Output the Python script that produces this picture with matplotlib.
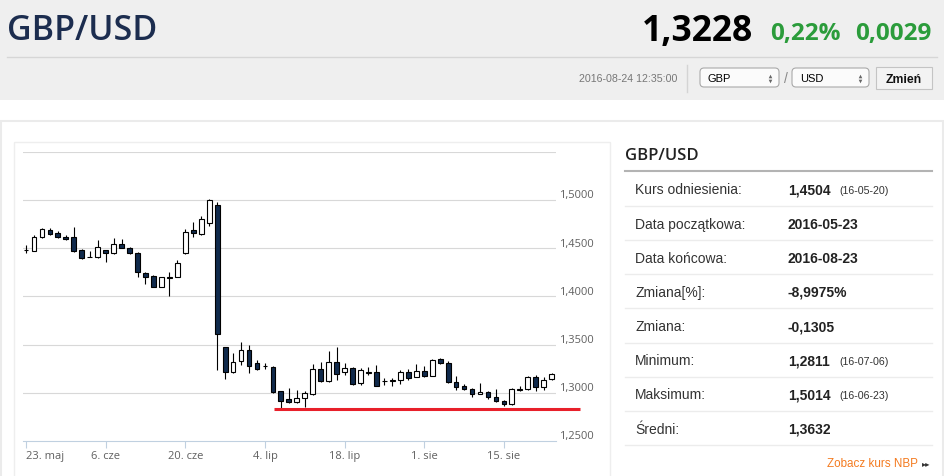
import numpy as np
import matplotlib.pyplot as plt
from matplotlib.patches import Rectangle, FancyBboxPatch

# daily GBP/USD candles, 2016-05-23 .. 2016-08-23
dates = ['05-23', '05-24', '05-25', '05-26', '05-27', '05-30', '05-31', '06-01', '06-02', '06-03',
         '06-06', '06-07', '06-08', '06-09', '06-10', '06-13', '06-14', '06-15', '06-16', '06-17',
         '06-20', '06-21', '06-22', '06-23', '06-24', '06-27', '06-28', '06-29', '06-30', '07-01',
         '07-04', '07-05', '07-06', '07-07', '07-08', '07-11', '07-12', '07-13', '07-14', '07-15',
         '07-18', '07-19', '07-20', '07-21', '07-22', '07-25', '07-26', '07-27', '07-28', '07-29',
         '08-01', '08-02', '08-03', '08-04', '08-05', '08-08', '08-09', '08-10', '08-11', '08-12',
         '08-15', '08-16', '08-17', '08-18', '08-19', '08-22', '08-23']
opens = [1.4478, 1.4473, 1.4618, 1.4688, 1.4660, 1.4620, 1.4618, 1.4480, 1.4405, 1.4405,
         1.4480, 1.4446, 1.4539, 1.4504, 1.4452, 1.4239, 1.4211, 1.4100, 1.4195, 1.4203,
         1.4452, 1.4688, 1.4646, 1.4764, 1.4947, 1.3471, 1.3218, 1.3329, 1.3440, 1.3305,
         1.3275, 1.3270, 1.3018, 1.2931, 1.2904, 1.2942, 1.2987, 1.3243, 1.3125, 1.3322,
         1.3212, 1.3253, 1.3098, 1.3210, 1.3212, 1.3123, 1.3125, 1.3132, 1.3212, 1.3160,
         1.3228, 1.3173, 1.3350, 1.3312, 1.3108, 1.3073, 1.3035, 1.2990, 1.3010, 1.2959,
         1.2914, 1.2880, 1.3033, 1.3038, 1.3160, 1.3062, 1.3139]
highs = [1.4535, 1.4636, 1.4708, 1.4712, 1.4677, 1.4639, 1.4722, 1.4494, 1.4470, 1.4584,
         1.4485, 1.4601, 1.4591, 1.4515, 1.4460, 1.4255, 1.4220, 1.4200, 1.4255, 1.4377,
         1.4695, 1.4768, 1.4833, 1.5014, 1.4981, 1.3475, 1.3409, 1.3523, 1.3495, 1.3340,
         1.3312, 1.3280, 1.3020, 1.3046, 1.3025, 1.3018, 1.3295, 1.3322, 1.3436, 1.3477,
         1.3311, 1.3270, 1.3253, 1.3264, 1.3290, 1.3152, 1.3152, 1.3235, 1.3246, 1.3294,
         1.3280, 1.3350, 1.3364, 1.3333, 1.3173, 1.3090, 1.3046, 1.3098, 1.3020, 1.3035,
         1.2924, 1.3046, 1.3069, 1.3173, 1.3184, 1.3160, 1.3208]
lows = [1.4446, 1.4470, 1.4605, 1.4633, 1.4605, 1.4581, 1.4463, 1.4390, 1.4403, 1.4400,
        1.4353, 1.4440, 1.4500, 1.4440, 1.4203, 1.4124, 1.4093, 1.4097, 1.4003, 1.4200,
        1.4436, 1.4612, 1.4636, 1.4732, 1.3235, 1.3139, 1.3210, 1.3287, 1.3207, 1.3236,
        1.3243, 1.3000, 1.2835, 1.2895, 1.2890, 1.2855, 1.2976, 1.3114, 1.3114, 1.3132,
        1.3184, 1.3080, 1.3080, 1.3184, 1.3070, 1.3080, 1.3073, 1.3090, 1.3132, 1.3160,
        1.3166, 1.3173, 1.3295, 1.3098, 1.3028, 1.3028, 1.2958, 1.2985, 1.2940, 1.2900,
        1.2866, 1.2873, 1.3015, 1.3028, 1.3021, 1.3028, 1.3132]
closes = [1.4482, 1.4618, 1.4695, 1.4649, 1.4615, 1.4598, 1.4473, 1.4400, 1.4407, 1.4515,
          1.4446, 1.4542, 1.4504, 1.4446, 1.4249, 1.4197, 1.4100, 1.4197, 1.4200, 1.4349,
          1.4663, 1.4653, 1.4800, 1.4999, 1.3609, 1.3218, 1.3322, 1.3443, 1.3280, 1.3246,
          1.3279, 1.3010, 1.2917, 1.2906, 1.2942, 1.2994, 1.3243, 1.3125, 1.3322, 1.3191,
          1.3253, 1.3087, 1.3235, 1.3214, 1.3073, 1.3127, 1.3128, 1.3218, 1.3149, 1.3225,
          1.3173, 1.3339, 1.3305, 1.3108, 1.3062, 1.3038, 1.2987, 1.3005, 1.2952, 1.2914,
          1.2880, 1.3035, 1.3037, 1.3160, 1.3056, 1.3132, 1.3199]

support_level = 1.2828

tick_idx = [0, 10, 20, 30, 40, 50, 60]
tick_labels = ['23. maj', '6. cze', '20. cze', '4. lip', '18. lip', '1. sie', '15. sie']
grid_vals = [1.25, 1.30, 1.35, 1.40, 1.45, 1.50, 1.55]
y_labels = ['1,2500', '1,3000', '1,3500', '1,4000', '1,4500', '1,5000']

pair = 'GBP/USD'
last_rate = '1,3228'
change_pct = '0,22%'
change_abs = '0,0029'
timestamp = '2016-08-24 12:35:00'

stat_names = ['Kurs odniesienia:', 'Data początkowa:', 'Data końcowa:', 'Zmiana[%]:',
              'Zmiana:', 'Minimum:', 'Maksimum:', 'Średni:']
stat_values = ['1,4504', '2016-05-23', '2016-08-23', '-8,9975%', '-0,1305',
               '1,2811', '1,5014', '1,3632']
stat_dates = ['(16-05-20)', '', '', '', '', '(16-07-06)', '(16-06-23)', '']

W, H = 945, 476
fig = plt.figure(figsize=(W / 100, H / 100), dpi=100)
fig.patch.set_facecolor('white')

# page background, pixel coords (y down)
bg = fig.add_axes([0, 0, 1, 1])
bg.set_xlim(0, W)
bg.set_ylim(H, 0)
bg.axis('off')

bg.add_patch(Rectangle((0, 0), W, 100, color='#efefef', lw=0))
bg.plot([7, 937], [56.7, 56.7], color='#d6d6d6', lw=1)
bg.text(7, 39.5, pair, fontsize=24.5, fontweight='semibold', family='Open Sans',
        color='#1c2d4f', va='baseline')
bg.text(753, 41, last_rate, fontsize=25.5, fontweight='bold', family='Open Sans',
        color='black', va='baseline', ha='right')
bg.text(770, 40, change_pct, fontsize=17.5, fontweight='bold', family='Open Sans',
        color='#2b9c3b', va='baseline')
bg.text(855, 40, change_abs, fontsize=17.5, fontweight='bold', family='Open Sans',
        color='#2b9c3b', va='baseline')

bg.text(579, 82.5, timestamp, fontsize=7.7, family='Liberation Sans', color='#777777',
        va='baseline')
bg.plot([687, 687], [65, 92], color='#d4d4d4', lw=1)
for x0, w, cur in [(700, 79, 'GBP'), (792, 77, 'USD')]:
    bg.add_patch(FancyBboxPatch((x0, 68), w, 19, boxstyle='round,pad=0,rounding_size=4',
                                facecolor='#fbfbfb', edgecolor='#a9a9a9', lw=0.8))
    bg.text(x0 + 8, 82, cur, fontsize=8, family='Liberation Sans', color='black',
            va='baseline')
    bg.plot([x0 + w - 9], [75.5], marker='^', ms=2.6, color='#666666', mew=0)
    bg.plot([x0 + w - 9], [80.5], marker='v', ms=2.6, color='#666666', mew=0)
bg.text(786, 83, '/', fontsize=10, family='Liberation Sans', color='#888888',
        va='baseline', ha='center')
bg.add_patch(Rectangle((876, 67), 56, 22, facecolor='#f3f3f3', edgecolor='#c4c4c4', lw=0.8))
bg.text(904, 83, 'Zmień', fontsize=8.8, fontweight='bold', family='Liberation Sans',
        color='#111111', va='baseline', ha='center')

# content boxes
bg.add_patch(Rectangle((1, 121), 942, 370, facecolor='white', edgecolor='#ebebeb', lw=1.5))
bg.add_patch(Rectangle((13.5, 141.5), 596.5, 350, facecolor='white', edgecolor='#eeeeee', lw=1))

# right info panel
bg.text(625, 160, pair, fontsize=12, fontweight='semibold', family='Open Sans',
        color='#222222', va='baseline')
bg.plot([625, 932], [171, 171], color='#b3b3b3', lw=1.5)
for k, (nm, val, dt) in enumerate(zip(stat_names, stat_values, stat_dates)):
    yb = 194.5 + 34.15 * k
    bg.text(635, yb, nm, fontsize=10, family='Liberation Sans', color='#333333',
            va='baseline')
    bg.text(788, yb, val, fontsize=10, fontweight='bold', family='Liberation Sans',
            color='#222222', va='baseline')
    if dt:
        bg.text(839, yb, dt, fontsize=7.7, family='Liberation Sans', color='#333333',
                va='baseline')
    bg.plot([625, 932], [206 + 34.15 * k] * 2, color='#ececec', lw=1)
bg.text(918, 467, 'Zobacz kurs NBP', fontsize=8.4, family='Liberation Sans',
        color='#f47b20', va='baseline', ha='right')
bg.text(922, 466, '▸▸', fontsize=6, family='DejaVu Sans', color='#333333',
        va='baseline')

# candlestick chart
x0_px, x1_px, y0_px, y1_px = 23, 556, 151.7, 441
step = 7.965
ax = fig.add_axes([x0_px / W, (H - y1_px) / H, (x1_px - x0_px) / W, (y1_px - y0_px) / H])
ax.set_facecolor('none')
ax.set_xlim((x0_px - 26) / step, (x1_px - 26) / step)
ax.set_ylim(grid_vals[0], grid_vals[-1])
for s in ['top', 'right', 'left']:
    ax.spines[s].set_visible(False)
ax.spines['bottom'].set_color('#c0d0e0')
ax.spines['bottom'].set_linewidth(0.8)
for g in grid_vals[1:]:
    ax.axhline(g, color='#d8d8d8', lw=0.8, zorder=1)
ax.set_yticks([])
ax.set_xticks(tick_idx)
ax.set_xticklabels(tick_labels, fontsize=8, family='Open Sans', color='#606060')
ax.get_xticklabels()[0].set_ha('left')
ax.tick_params(axis='x', length=5, width=0.8, color='#c0d0e0', pad=2)
for g, lab in zip(grid_vals[:-1], y_labels):
    ax.text(1.005, g + 0.0042, lab, transform=ax.get_yaxis_transform(), fontsize=8,
            family='Open Sans', color='#606060', va='center', ha='left')

o = np.array(opens)
c = np.array(closes)
idx = np.arange(len(dates))
up = c >= o
body_col = np.where(up, 'white', '#102a4c')
ax.vlines(idx, lows, highs, color='black', lw=0.8, zorder=2)
ax.bar(idx, np.maximum(np.abs(c - o), 0.0002), bottom=np.minimum(o, c), width=0.6,
       color=body_col, edgecolor='black', linewidth=0.8, zorder=3)

ax.plot([31.1, 69.5], [support_level] * 2, color='#e8202a', lw=2.2, clip_on=False,
        solid_capstyle='butt', zorder=4)

fig.savefig('out.png', dpi=100)
